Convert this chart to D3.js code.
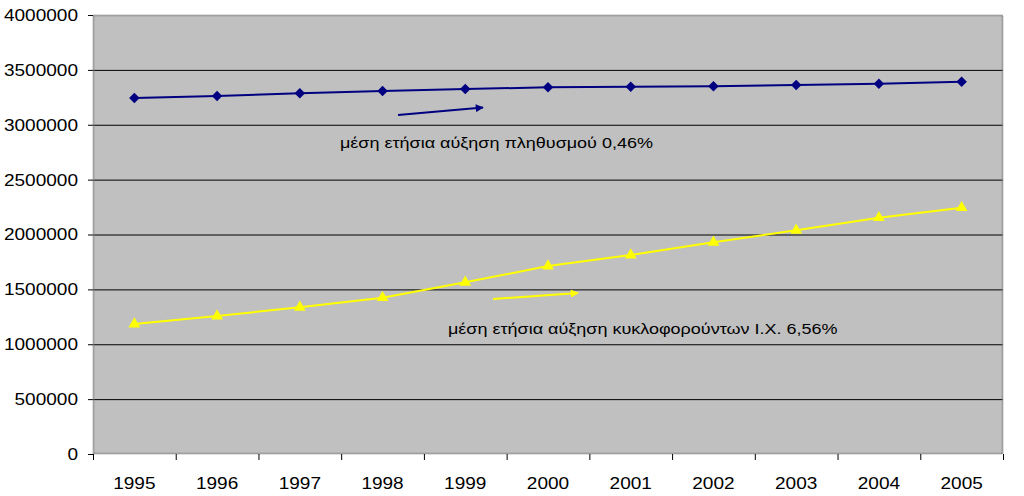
<!DOCTYPE html>
<html>
<head>
<meta charset="utf-8">
<script src="https://cdn.jsdelivr.net/npm/d3@7"></script>
<style>
  html, body { margin: 0; padding: 0; background: #ffffff; }
  svg { display: block; }
</style>
</head>
<body>
<svg id="chart" width="1024" height="496"></svg>
<script>
const years = ["1995","1996","1997","1998","1999","2000","2001","2002","2003","2004","2005"];
const population = [3243700, 3262000, 3286000, 3307500, 3325700, 3341000, 3347000, 3350000, 3362000, 3374000, 3392000];
const cars = [1184500, 1257400, 1336700, 1424000, 1564000, 1713000, 1813000, 1929000, 2038000, 2153000, 2244000];
const yTicks = [0, 500000, 1000000, 1500000, 2000000, 2500000, 3000000, 3500000, 4000000];
const popLabel = "μέση ετήσια αύξηση πληθυσμού 0,46%";
const carLabel = "μέση ετήσια αύξηση κυκλοφορούντων Ι.Χ. 6,56%";

const svg = d3.select("#chart");
const L = 93, R = 1003, T = 15, B = 454;
const font = "'Liberation Sans', Arial, sans-serif";
const axisStretch = 1.12, noteStretch = 1.2;

const x = d3.scaleBand().domain(years).range([L, R]).padding(0);
const y = d3.scaleLinear().domain([0, 4000000]).range([B, T]);
const cx = d => x(d) + x.bandwidth() / 2;

// plot background
svg.append("rect").attr("x", L).attr("y", T).attr("width", R - L).attr("height", B - T)
  .attr("fill", "#c0c0c0");

// gridlines
svg.append("g").selectAll("line").data(yTicks.filter(v => v > 0 && v < 4000000)).join("line")
  .attr("x1", L).attr("x2", R).attr("y1", d => y(d) + 0.5).attr("y2", d => y(d) + 0.5)
  .attr("stroke", "#000").attr("stroke-width", 1);

// plot border (gray dotted)
svg.append("rect").attr("x", L + 0.5).attr("y", T + 0.5).attr("width", R - L - 1).attr("height", B - T - 1)
  .attr("fill", "none").attr("stroke", "#808080").attr("stroke-width", 2).attr("stroke-dasharray", "1,1");

// y axis
const yAxis = d3.axisLeft(y).tickValues(yTicks).tickSize(5).tickPadding(10).tickFormat(d3.format("d"));
const gy = svg.append("g").attr("transform", `translate(${L},0)`).call(yAxis);
gy.select(".domain").remove();
gy.selectAll(".tick line").attr("stroke", "#000");
gy.selectAll(".tick text").attr("font-family", font).attr("font-size", 17).attr("fill", "#000")
  .attr("x", -15 / axisStretch).attr("transform", `scale(${axisStretch},1)`);

// x axis: ticks at category boundaries
const gx = svg.append("g").attr("transform", `translate(0,${B})`);
const bounds = years.map(d => x(d)).concat([R]);
gx.selectAll("line").data(bounds).join("line")
  .attr("x1", d => d + 0.5).attr("x2", d => d + 0.5).attr("y1", 0).attr("y2", 6)
  .attr("stroke", "#000");
gx.selectAll("text").data(years).join("text")
  .attr("transform", d => `translate(${cx(d)},35) scale(${axisStretch},1)`)
  .attr("text-anchor", "middle").attr("font-family", font).attr("font-size", 17).attr("fill", "#000")
  .text(d => d);

// lines
const line = d3.line().x((d, i) => cx(years[i])).y(d => y(d));
svg.append("path").datum(population).attr("d", line)
  .attr("fill", "none").attr("stroke", "#000080").attr("stroke-width", 2);
svg.append("path").datum(cars).attr("d", line)
  .attr("fill", "none").attr("stroke", "#ffff00").attr("stroke-width", 2);

// markers
svg.append("g").selectAll("path").data(population).join("path")
  .attr("d", d3.symbol(d3.symbolDiamond2 || d3.symbolDiamond, 70))
  .attr("transform", (d, i) => `translate(${cx(years[i])},${y(d)})`)
  .attr("fill", "#000080");
svg.append("g").selectAll("path").data(cars).join("path")
  .attr("d", d3.symbol(d3.symbolTriangle, 60))
  .attr("transform", (d, i) => `translate(${cx(years[i])},${y(d)})`)
  .attr("fill", "#ffff00");

// arrow markers
const defs = svg.append("defs");
function arrowHead(id, color) {
  defs.append("marker").attr("id", id).attr("viewBox", "0 0 10 10")
    .attr("refX", 9).attr("refY", 5).attr("markerWidth", 5).attr("markerHeight", 4)
    .attr("markerUnits", "strokeWidth").attr("orient", "auto")
    .append("path").attr("d", "M0,0 L10,5 L0,10 z").attr("fill", color);
}
arrowHead("arrBlue", "#000080");
arrowHead("arrYellow", "#ffff00");

svg.append("line").attr("x1", 398).attr("y1", 115).attr("x2", 483).attr("y2", 107.5)
  .attr("stroke", "#000080").attr("stroke-width", 2).attr("marker-end", "url(#arrBlue)");
svg.append("line").attr("x1", 493).attr("y1", 299).attr("x2", 578).attr("y2", 293)
  .attr("stroke", "#ffff00").attr("stroke-width", 2).attr("marker-end", "url(#arrYellow)");

// annotation texts
svg.append("text").attr("transform", `translate(340,147.5) scale(${noteStretch},1)`)
  .attr("font-family", font).attr("font-size", 15).attr("fill", "#000").text(popLabel);
svg.append("text").attr("transform", `translate(448,333.5) scale(${noteStretch},1)`)
  .attr("font-family", font).attr("font-size", 15).attr("fill", "#000").text(carLabel);
</script>
</body>
</html>
